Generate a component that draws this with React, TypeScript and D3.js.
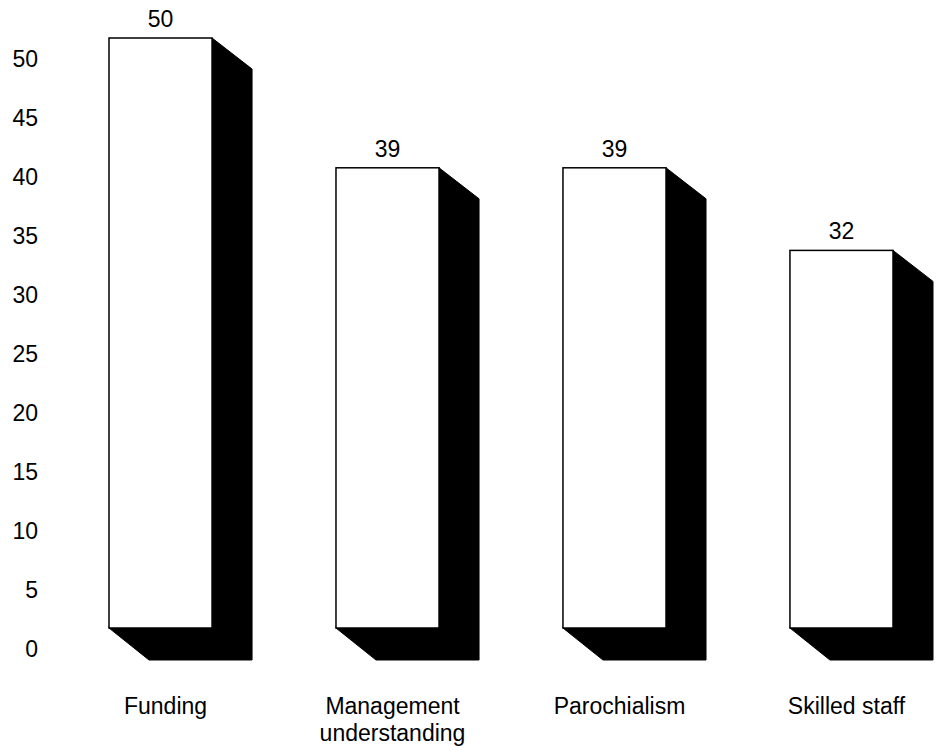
import React from "react";
import * as d3 from "d3";

const categories: string[][] = [["Funding"], ["Management", "understanding"], ["Parochialism"], ["Skilled staff"]];
const values: number[] = [50, 39, 39, 32];
const yTicks: number[] = [0, 5, 10, 15, 20, 25, 30, 35, 40, 45, 50];

const W = 941;
const H = 751;
const DX = 40;
const DY = 31;
const FONT = "'Liberation Sans', Arial, Helvetica, sans-serif";
const FS = 23;

export default function App() {
  const keys = categories.map((c) => c.join(" "));
  const x = d3.scaleBand<string>().domain(keys).range([109, 893]).paddingInner(0.546).paddingOuter(0);
  const y = d3.scaleLinear().domain([0, 50]).range([628, 38]);
  const base = y(0);

  return (
    <svg width={W} height={H} style={{ position: "absolute", left: 0, top: 0, background: "#fff" }} fontFamily={FONT}>
      <rect x={0} y={0} width={W} height={H} fill="#fff" />
      {yTicks.map((t) => (
        <text key={t} x={38} y={y(t) + 29} textAnchor="end" fontSize={FS} fill="#000">
          {t}
        </text>
      ))}
      {values.map((v, i) => {
        const k = keys[i];
        const x0 = x(k)!;
        const x1 = x0 + x.bandwidth();
        const top = y(v);
        const pts = [
          [x1, top],
          [x1 + DX, top + DY],
          [x1 + DX, base + DY + 1],
          [x0 + DX, base + DY + 1],
          [x0, base],
        ];
        return (
          <g key={k}>
            <polygon points={pts.map((p) => p.join(",")).join(" ")} fill="#000" stroke="#000" strokeWidth={1} />
            <rect x={x0} y={top} width={x.bandwidth()} height={base - top} fill="#fff" stroke="#000" strokeWidth={1.5} />
            <text x={(x0 + x1) / 2} y={top - 11} textAnchor="middle" fontSize={FS} fill="#000">
              {v}
            </text>
            {categories[i].map((line, j) => (
              <text key={j} x={(x0 + x1) / 2 + 5} y={714 + j * 27} textAnchor="middle" fontSize={FS} fill="#000">
                {line}
              </text>
            ))}
          </g>
        );
      })}
    </svg>
  );
}
